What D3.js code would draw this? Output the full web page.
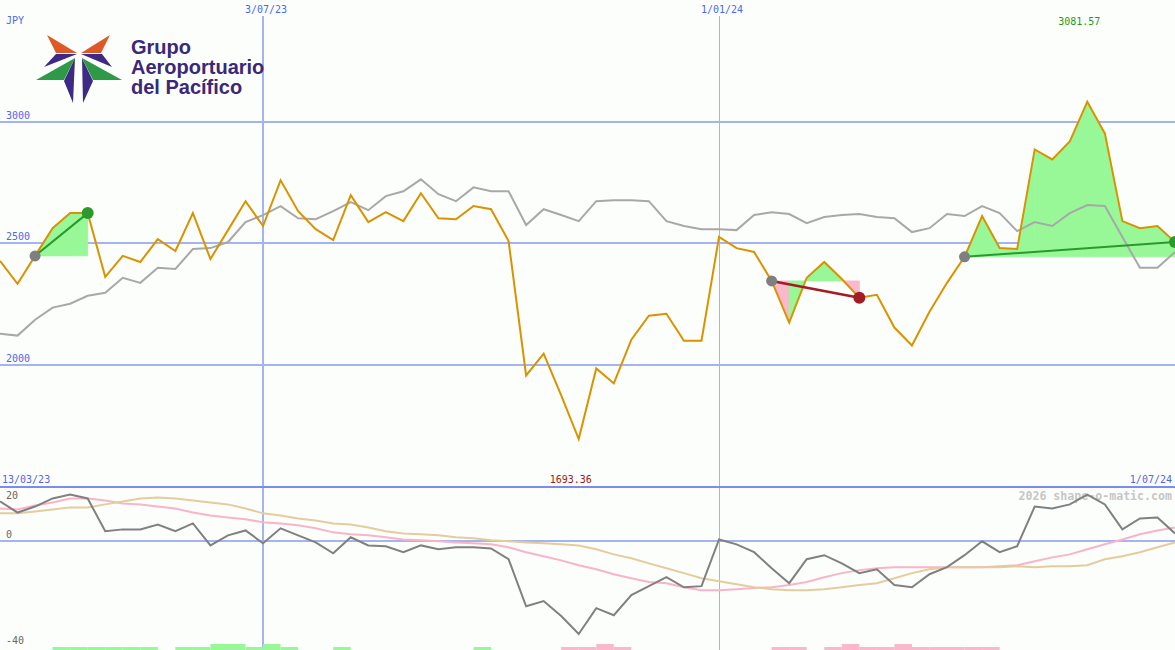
<!DOCTYPE html>
<html>
<head>
<meta charset="utf-8">
<script src="https://cdn.jsdelivr.net/npm/d3@7"></script>
<style>
html,body{margin:0;padding:0;background:#fcfefc;}
svg{display:block;}
</style>
</head>
<body>
<svg id="chart" width="1175" height="650"></svg>
<script>
// ---------- DATA ----------
const dates = [
"2023-03-20","2023-03-27","2023-04-03","2023-04-10","2023-04-17","2023-04-24","2023-05-01","2023-05-08","2023-05-15","2023-05-22",
"2023-05-29","2023-06-05","2023-06-12","2023-06-19","2023-06-26","2023-07-03","2023-07-10","2023-07-17","2023-07-24","2023-07-31",
"2023-08-07","2023-08-14","2023-08-21","2023-08-28","2023-09-04","2023-09-11","2023-09-18","2023-09-25","2023-10-02","2023-10-09",
"2023-10-16","2023-10-23","2023-10-30","2023-11-06","2023-11-13","2023-11-20","2023-11-27","2023-12-04","2023-12-11","2023-12-18",
"2023-12-25","2024-01-01","2024-01-08","2024-01-15","2024-01-22","2024-01-29","2024-02-05","2024-02-12","2024-02-19","2024-02-26",
"2024-03-04","2024-03-11","2024-03-18","2024-03-25","2024-04-01","2024-04-08","2024-04-15","2024-04-22","2024-04-29","2024-05-06",
"2024-05-13","2024-05-20","2024-05-27","2024-06-03","2024-06-10","2024-06-17","2024-06-24","2024-07-01"];

const price = [
2426,2332,2447,2561,2623,2623,2361,2447,2422,2516,
2467,2623,2434,2553,2672,2570,2758,2631,2557,2512,
2697,2586,2627,2590,2705,2602,2598,2652,2639,2508,
1955,2045,1873,1693.36,1984,1922,2102,2201,2209,2098,
2098,2525,2479,2463,2344,2172,2357,2422,2352,2275,
2287,2152,2078,2217,2336,2443,2611,2479,2475,2885,
2844,2918,3081.57,2951,2590,2561,2570,2504];

const benchmark = [
2127,2119,2184,2234,2250,2283,2295,2357,2336,2398,
2393,2475,2479,2504,2586,2615,2652,2602,2598,2631,
2668,2635,2693,2713,2762,2701,2672,2729,2713,2713,
2574,2639,2615,2590,2672,2676,2676,2672,2590,2570,
2557,2557,2553,2615,2627,2619,2582,2607,2615,2619,
2607,2602,2545,2561,2619,2611,2652,2623,2549,2586,
2570,2623,2656,2652,2525,2398,2398,2463];

const oscillator = [
14.7,10.6,12.8,15.8,17.2,15.8,3.7,4.4,4.4,6.2,
3.7,6.6,-1.5,2.2,4.0,-0.7,4.8,2.2,-0.4,-4.4,
1.5,-1.5,-1.8,-4.0,-1.5,-2.9,-2.2,-2.2,-2.6,-6.6,
-23.9,-22.0,-27.5,-34.1,-24.6,-27.2,-19.8,-16.5,-13.2,-16.9,
-16.5,0.7,-1.1,-4.0,-9.9,-15.4,-6.6,-5.1,-8.1,-11.7,
-10.3,-16.1,-16.9,-12.1,-9.5,-5.1,0.0,-4.0,-1.8,12.8,
12.1,13.6,17.2,13.6,4.4,8.4,8.8,2.9];

const oscFast = [
12.1,11.7,13.2,14.3,15.8,15.8,15.0,13.9,13.6,12.8,
12.1,10.6,9.5,8.8,8.1,7.0,6.6,5.9,4.8,3.3,
2.6,2.2,1.5,0.7,0.4,0.0,-0.4,-0.7,-1.1,-2.2,
-4.0,-5.5,-7.0,-8.8,-10.3,-12.1,-13.6,-15.0,-15.4,-16.9,
-18.0,-18.0,-17.6,-17.2,-16.9,-16.1,-15.0,-13.2,-11.7,-10.6,
-9.9,-9.5,-9.5,-9.5,-9.5,-9.5,-9.5,-9.2,-8.8,-7.3,
-5.9,-4.8,-2.9,-1.1,0.7,2.6,4.0,5.1];

const oscSlow = [
10.3,10.3,11.0,11.7,12.5,12.5,13.6,14.7,15.8,16.1,
15.8,15.0,14.3,13.6,12.1,10.3,9.5,8.4,7.7,6.6,
6.2,5.1,3.7,2.9,2.6,2.2,1.5,1.1,0.4,0.0,
-0.4,-0.7,-1.1,-1.5,-2.9,-4.8,-6.2,-8.1,-9.9,-11.7,
-13.6,-14.7,-15.8,-16.9,-17.6,-18.0,-18.0,-17.6,-16.9,-16.1,
-15.4,-13.6,-11.7,-10.3,-9.5,-9.5,-9.5,-9.5,-9.2,-9.5,
-9.2,-9.2,-8.8,-6.6,-5.5,-4.0,-2.2,-0.4];

// weekly signal level per interval (positive = green, negative = pink)
const signal = [
0,0,0,1,1,1,1,1,1,0,
1,1,2,2,1,2,1,0,0,1,
0,0,0,0,0,0,0,1,0,0,
0,0,-1,-1,-2,-1,0,0,0,0,
0,0,0,0,-1,-1,0,-1,-2,-1,
-1,-2,-1,-1,-1,-1,-1,0,0,0,
0,0,0,0,0,0,0];

const priceTicks = [2000, 2500, 3000];
const oscTicks = [20, 0, -40];
const gridDates = ["2023-07-03", "2024-01-01"];
const gridDateLabels = ["3/07/23", "1/01/24"];
const gridDateWidths = [2, 1];
const rangeLabels = ["13/03/23", "1/07/24"];
const currency = "JPY";
const tradeStart = ["2023-04-03", "2024-01-22", "2024-04-08"];
const tradeEnd = ["2023-04-24", "2024-02-26", "2024-07-01"];
const logoLines = ["Grupo", "Aeroportuario", "del Pacífico"];
const watermark = "2026 shape-o-matic.com";

// ---------- SETUP ----------
const W = 1175, H = 650;
const parse = d3.utcParse("%Y-%m-%d");
const dts = dates.map(parse);
const svg = d3.select("#chart");

const x = d3.scaleUtc().domain([dts[0], dts[dts.length - 1]]).range([0, W]);
const y = d3.scaleLinear().domain([2000, 3000]).range([364.5, 121.5]);
const y2 = d3.scaleLinear().domain([-40, 20]).range([650, 487]);
const barH = d3.scaleLinear().domain([0, 2]).range([0, 6]);

const C = {
  grid: "#a4b4f0", gridDark: "#7b8cf0", blueText: "#4f67ee",
  orange: "#d99300", bench: "#a8a8a8", osc: "#808080",
  pink: "#f8b4c8", tan: "#e4cc9c", green: "#98f898", pinkFill: "#f9b8cb",
  tradeGreen: "#2a9a2a", tradeRed: "#a31c22", startDot: "#7f7f7f"
};
const mono = "'DejaVu Sans Mono', monospace";

// ---------- GRID ----------
const g = svg.append("g");
g.selectAll(".hg").data(priceTicks).join("line")
  .attr("x1", 0).attr("x2", W)
  .attr("y1", d => Math.round(y(d))).attr("y2", d => Math.round(y(d)))
  .attr("stroke", C.grid).attr("stroke-width", 2);
g.selectAll(".hl").data(priceTicks).join("text")
  .attr("x", 6).attr("y", d => Math.round(y(d)) - 3)
  .attr("font-family", mono).attr("font-size", 10).attr("fill", C.blueText)
  .text(d => d);

gridDates.forEach((d, i) => {
  const xx = Math.round(x(parse(d))) + (gridDateWidths[i] === 1 ? 0.5 : 0);
  g.append("line").attr("x1", xx).attr("x2", xx).attr("y1", 16).attr("y2", H)
    .attr("stroke", C.grid).attr("stroke-width", gridDateWidths[i]);
  g.append("text").attr("x", x(parse(d)) + 3).attr("y", 13)
    .attr("text-anchor", "middle").attr("font-family", mono).attr("font-size", 10)
    .attr("fill", C.blueText).text(gridDateLabels[i]);
});

g.append("text").attr("x", 6).attr("y", 24).attr("font-family", mono)
  .attr("font-size", 10).attr("fill", C.blueText).text(currency);

// ---------- MAIN PANEL ----------
const line = (arr, ys) => d3.line().x((d, i) => x(dts[i])).y(d => ys(d))(arr);

// trade fills (drawn beneath the benchmark line)
const trades = tradeStart.map((s, k) => {
  const i0 = dates.indexOf(s), i1 = dates.indexOf(tradeEnd[k]);
  return { i0, i1, win: price[i1] >= price[i0] };
});
trades.forEach(t => {
  const base = price[t.i0];
  for (let i = t.i0; i < t.i1; i++) {
    const pts = [[x(dts[i]), y(base)], [x(dts[i]), y(price[i])],
                 [x(dts[i + 1]), y(price[i + 1])], [x(dts[i + 1]), y(base)]];
    const col = price[i + 1] >= base ? C.green : C.pinkFill;
    svg.append("path").attr("d", "M" + pts.join("L") + "Z")
      .attr("fill", col).attr("stroke", col).attr("stroke-width", 0.8);
  }
});

svg.append("path").attr("d", line(benchmark, y)).attr("fill", "none")
  .attr("stroke", C.bench).attr("stroke-width", 2);

svg.append("path").attr("d", line(price, y)).attr("fill", "none")
  .attr("stroke", C.orange).attr("stroke-width", 2).attr("stroke-linejoin", "miter");

trades.forEach(t => {
  const col = t.win ? C.tradeGreen : C.tradeRed;
  svg.append("line")
    .attr("x1", x(dts[t.i0])).attr("y1", y(price[t.i0]))
    .attr("x2", x(dts[t.i1])).attr("y2", y(price[t.i1]))
    .attr("stroke", col).attr("stroke-width", t.win ? 2 : 2.5);
  svg.append("circle").attr("cx", x(dts[t.i0])).attr("cy", y(price[t.i0]))
    .attr("r", 5.5).attr("fill", C.startDot);
  svg.append("circle").attr("cx", x(dts[t.i1])).attr("cy", y(price[t.i1]))
    .attr("r", 6).attr("fill", col);
});

// max / min labels
const iMax = d3.maxIndex(price), iMin = d3.minIndex(price);
svg.append("text").attr("x", x(dts[iMax]) - 8).attr("y", 25).attr("text-anchor", "middle")
  .attr("font-family", mono).attr("font-size", 10).attr("fill", "#1f9a1f")
  .text(d3.format(".2f")(price[iMax]));
svg.append("text").attr("x", x(dts[iMin]) - 8).attr("y", 483).attr("text-anchor", "middle")
  .attr("font-family", mono).attr("font-size", 10).attr("fill", "#a01818")
  .text(d3.format(".2f")(price[iMin]));

// range labels
svg.append("text").attr("x", 2).attr("y", 483).attr("font-family", mono)
  .attr("font-size", 10).attr("fill", C.blueText).text(rangeLabels[0]);
svg.append("text").attr("x", 1172).attr("y", 483).attr("text-anchor", "end")
  .attr("font-family", mono).attr("font-size", 10).attr("fill", C.blueText).text(rangeLabels[1]);

// ---------- LOWER PANEL ----------
svg.append("line").attr("x1", 0).attr("x2", W).attr("y1", 487).attr("y2", 487)
  .attr("stroke", C.gridDark).attr("stroke-width", 2);
svg.append("line").attr("x1", 0).attr("x2", W)
  .attr("y1", Math.round(y2(0))).attr("y2", Math.round(y2(0)))
  .attr("stroke", C.grid).attr("stroke-width", 2);

svg.selectAll(".ot").data(oscTicks).join("text")
  .attr("x", 6).attr("y", d => d === 20 ? 499 : (d === 0 ? 538 : 644))
  .attr("font-family", mono).attr("font-size", 10).attr("fill", "#666")
  .text(d => d);

svg.append("text").attr("x", 1172).attr("y", 500).attr("text-anchor", "end")
  .attr("font-family", mono).attr("font-size", 11.6).attr("font-weight", "bold")
  .attr("fill", "#c6c6c6").text(watermark);

// signal bars
signal.forEach((s, i) => {
  if (!s) return;
  const h = barH(Math.abs(s));
  svg.append("rect").attr("x", x(dts[i])).attr("width", x(dts[i + 1]) - x(dts[i]))
    .attr("y", H - h).attr("height", h)
    .attr("fill", s > 0 ? C.green : C.pinkFill);
});

svg.append("path").attr("d", line(oscFast, y2)).attr("fill", "none")
  .attr("stroke", C.pink).attr("stroke-width", 2);
svg.append("path").attr("d", line(oscSlow, y2)).attr("fill", "none")
  .attr("stroke", C.tan).attr("stroke-width", 2);
svg.append("path").attr("d", line(oscillator, y2)).attr("fill", "none")
  .attr("stroke", C.osc).attr("stroke-width", 2);

// ---------- LOGO ----------
const logo = svg.append("g");
const shapes = [
  { c: "#dd5a26", p: [[47,35],[77,53],[56,53]] },
  { c: "#3e2a85", p: [[56,54],[77,54],[44,67]] },
  { c: "#dd5a26", p: [[110,35],[81,53],[101,53]] },
  { c: "#3e2a85", p: [[81,54],[102,54],[112,67]] },
  { c: "#2e9a48", p: [[36,80],[75,58],[64,80]] },
  { c: "#3e2a85", p: [[64,81],[75,58],[73,103]] },
  { c: "#3e2a85", p: [[82,58],[93,81],[83,103]] },
  { c: "#2e9a48", p: [[82,58],[122,80],[93,80]] }
];
shapes.forEach(s => logo.append("path").attr("d", "M" + s.p.join("L") + "Z").attr("fill", s.c));
logoLines.forEach((t, i) => {
  logo.append("text").attr("x", 131).attr("y", 54 + i * 20)
    .attr("font-family", "'Liberation Sans', Arial, sans-serif").attr("font-weight", "bold")
    .attr("font-size", 20).attr("fill", "#3b2878").text(t);
});
</script>
</body>
</html>
